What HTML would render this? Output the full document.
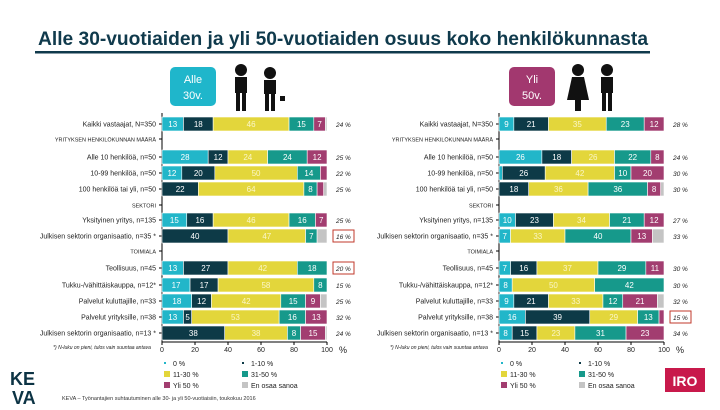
<!DOCTYPE html>
<html><head><meta charset="utf-8">
<style>
body{margin:0;width:720px;height:405px;background:#fff;font-family:"Liberation Sans",sans-serif;overflow:hidden;position:relative}
svg text{font-family:"Liberation Sans",sans-serif}
</style></head>
<body>
<svg id="s" width="720" height="405" viewBox="0 0 720 405">
<text x="38" y="45" font-size="19" font-weight="bold" fill="#103a4c" textLength="610" lengthAdjust="spacingAndGlyphs">Alle 30-vuotiaiden ja yli 50-vuotiaiden osuus koko henkilökunnasta</text>
<rect x="35" y="51" width="615" height="2.5" fill="#103a4c"/>
<rect x="170" y="67" width="46" height="39" rx="5" fill="#1fb6cb"/>
<text x="193" y="83" font-size="11" fill="#fff" text-anchor="middle">Alle</text>
<text x="193" y="99" font-size="11" fill="#fff" text-anchor="middle">30v.</text>
<rect x="509" y="67" width="46" height="39" rx="5" fill="#a2386f"/>
<text x="532" y="83" font-size="11" fill="#fff" text-anchor="middle">Yli</text>
<text x="532" y="99" font-size="11" fill="#fff" text-anchor="middle">50v.</text>
<g fill="#111">
<circle cx="241" cy="70" r="6"/><rect x="235" y="77" width="12" height="16"/><rect x="236" y="93" width="4" height="18"/><rect x="242" y="93" width="4" height="18"/>
<circle cx="270" cy="73" r="6"/><rect x="264" y="80" width="12" height="14"/><rect x="265" y="94" width="4" height="17"/><rect x="271" y="94" width="4" height="17"/><rect x="280" y="96" width="5" height="5"/>
</g>
<g fill="#111">
<circle cx="578" cy="70" r="6"/><polygon points="572,77 584,77 589,100 567,100"/><rect x="575" y="100" width="6" height="11"/>
<circle cx="607" cy="70" r="6"/><rect x="601" y="77" width="12" height="16"/><rect x="602" y="93" width="4" height="18"/><rect x="608" y="93" width="4" height="18"/>
</g>
<g id="charts"></g>
<g fill="#0c3344">
<text x="10" y="385" font-size="18" font-weight="bold" fill="#0c3344">KE</text>
<text x="12" y="404" font-size="18" font-weight="bold" fill="#0c3344">VA</text>
</g>
<text x="62" y="400" font-size="5.5" fill="#333">KEVA – Työnantajien suhtautuminen alle 30- ja yli 50-vuotiaisiin, toukokuu 2016</text>
<rect x="665" y="368" width="40" height="24" fill="#c8194b"/>
<text x="685" y="386" font-size="14" font-weight="bold" fill="#fff" text-anchor="middle">IRO</text>
</svg>
<script>
const categories=["Kaikki vastaajat, N=350","YRITYKSEN HENKILÖKUNNAN MÄÄRÄ","Alle 10 henkilöä, n=50","10-99 henkilöä, n=50","100 henkilöä tai yli, n=50","SEKTORI","Yksityinen yritys, n=135","Julkisen sektorin organisaatio, n=35 *","TOIMIALA","Teollisuus, n=45","Tukku-/vähittäiskauppa, n=12*","Palvelut kuluttajille, n=33","Palvelut yrityksille, n=38","Julkisen sektorin organisaatio, n=13 *"];
const isSection=[0,1,0,0,0,1,0,0,1,0,0,0,0,0];
const seriesNames=["0 %","1-10 %","11-30 %","31-50 %","Yli 50 %","En osaa sanoa"];
const under30Values=[[13,18,46,15,7,1],null,[28,12,24,24,12,0],[12,20,50,14,4,0],[0,22,64,8,4,2],null,[15,16,46,16,7,0],[0,40,47,7,0,6],null,[13,27,42,18,0,0],[17,17,58,8,0,0],[18,12,42,15,9,4],[13,5,53,16,13,0],[0,38,38,8,15,1]];
const under30Totals=["24 %",null,"25 %","22 %","25 %",null,"25 %","16 %",null,"20 %","15 %","25 %","32 %","24 %"];
const under30Boxed=[0,0,0,0,0,0,0,1,0,1,0,0,0,0];
const over50Values=[[9,21,35,23,12,0],null,[26,18,26,22,8,0],[2,26,42,10,20,0],[0,18,36,36,8,2],null,[10,23,34,21,12,0],[7,0,33,40,13,7],null,[7,16,37,29,11,0],[8,0,50,42,0,0],[9,21,33,12,21,4],[16,39,29,13,3,0],[8,15,23,31,23,0]];
const over50Totals=["28 %",null,"24 %","30 %","30 %",null,"27 %","33 %",null,"30 %","30 %","32 %","15 %","34 %"];
const over50Boxed=[0,0,0,0,0,0,0,0,0,0,0,0,1,0];
const tickLabels=["0","20","40","60","80","100"];
const tickValues=[0,20,40,60,80,100];
const colors=["#22b6c9","#0d3a47","#e3d63b","#16998b","#a23d70","#c4c4c4"];
const NS="http://www.w3.org/2000/svg";
const root=document.getElementById('charts');
function mk(tag,attrs,parent){const e=document.createElementNS(NS,tag);for(const k in attrs)e.setAttribute(k,attrs[k]);parent.appendChild(e);return e;}
const rowY=[124,139,157,173,189,205,220,236,251,268,285,301,317,333];
function drawChart(x0,values,totals,boxed,prefix){
  const w=165;const xs=v=>x0+v/100*w;
  const g=mk('g',{},root);
  
  
  mk('line',{x1:x0,y1:113,x2:x0,y2:342,stroke:'#000','stroke-width':1},g);
  mk('line',{x1:x0,y1:342,x2:x0+w,y2:342,stroke:'#000','stroke-width':1},g);
  tickValues.forEach((t,i)=>{
    mk('line',{x1:xs(t),y1:342,x2:xs(t),y2:345,stroke:'#000'},g);
    const tl=mk('text',{x:xs(t),y:352,'font-size':7,'text-anchor':'middle',fill:'#222'},g);
    tl.textContent=tickLabels[i];
    
    
  });
  const pc=mk('text',{x:xs(100)+12,y:353,'font-size':9,fill:'#222'},g);pc.textContent='%';
  categories.forEach((c,r)=>{
    const y=rowY[r];
    const lab=mk('text',{x:x0-6,y:y+2.5,'font-size':isSection[r]?5.5:7,'text-anchor':'end',fill:'#222'},g);
    lab.textContent=c;
    
    
    mk('line',{x1:x0-3,y1:y,x2:x0,y2:y,stroke:'#000'},g);
    const v=values[r];if(!v)return;
    let acc=0;
    v.forEach((val,s)=>{
      if(val>0){
        const rc=mk('rect',{x:xs(acc),y:y-7,width:xs(acc+val)-xs(acc),height:14,fill:colors[s],stroke:'#fff','stroke-width':0.6},g);
        
        
        if(val>=5&&s<5){const t=mk('text',{x:(xs(acc)+xs(acc+val))/2,y:y+3,'font-size':8,'text-anchor':'middle',fill:s==2?'#fbf6c8':'#fff'},g);t.textContent=val;}
      }
      acc+=val;
    });
    const tt=mk('text',{x:x0+w+9,y:y+3,'font-size':6.5,'font-style':'italic',fill:'#222'},g);
    tt.textContent=totals[r];
    
    
    if(boxed[r])mk('rect',{x:x0+w+6,y:y-6,width:21,height:12,fill:'none',stroke:'#c0392b','stroke-width':1},g);
  });
  const note=mk('text',{x:x0-60,y:349,'font-size':5,'font-style':'italic',fill:'#222','text-anchor':'middle'},g);
  note.textContent='*) N-luku on pieni, tulos vain suuntaa antava';
  const lx=[x0+2,x0+80],ly=[365,376,387];
  seriesNames.forEach((n,i)=>{
    const lxx=lx[i%2],lyy=ly[Math.floor(i/2)];
    const sw=(i<2)?2:6;
    const r=mk('rect',{x:lxx,y:lyy-sw/2-2,width:sw,height:sw,fill:colors[i]},g);
    
    
    const t=mk('text',{x:lxx+9,y:lyy+1,'font-size':7,fill:'#222'},g);t.textContent=n;
    
    
  });
}
drawChart(162,under30Values,under30Totals,under30Boxed,'under-30');
drawChart(499,over50Values,over50Totals,over50Boxed,'over-50');
</script>
</body></html>
